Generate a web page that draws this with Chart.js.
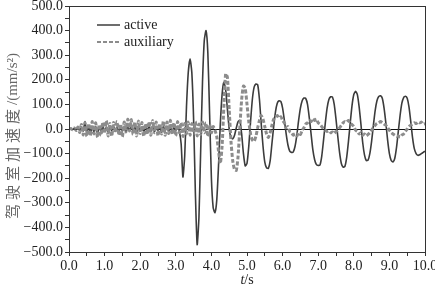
<!DOCTYPE html>
<html>
<head>
<meta charset="utf-8">
<script src="https://cdn.jsdelivr.net/npm/chart.js@4.4.0/dist/chart.umd.min.js"></script>
<style>
  html, body { margin: 0; padding: 0; background: #fff; }
  #wrap { width: 435px; height: 286px; }
</style>
</head>
<body>
<div id="wrap"><canvas id="accChart" width="435" height="286"></canvas></div>
<script>
// sampling grid of the recorded signals (s)
const T_START = 0;
const T_STEP = 0.05;

const seriesLabels = ["active", "auxiliary"];

// cab acceleration, mm/s^2, one value every 0.05 s from 0 to 10 s
const activeAcc = [
  0, 1, -2, 2, -3, 3, -5, 6, -8, 30,
  -20, 12, -15, 8, -12, 10, -18, 6, -8, 12,
  -10, 8, -14, 10, -6, 12, -10, 8, -12, 6,
  -8, 10, -12, 14, -6, 10, -10, 8, -14, 12,
  -8, 6, -12, 10, -6, 12, -10, 8, -12, 10,
  -6, 8, -14, 10, -8, 12, -10, 6, -12, 10,
  -6, 8, -10, -60, -195, -110, 90, 230, 285, 230,
  40, -260, -470, -360, -80, 190, 360, 400, 310, 60,
  -200, -320, -340, -290, -150, 20, 140, 190, 160, 80,
  0, -35, -40, -25, 5, 30, 35, -20, -100, -150,
  -140, -70, 30, 120, 170, 183, 180, 120, 20, -70,
  -135, -158, -160, -130, -60, 10, 70, 105, 115, 112,
  85, 35, -20, -65, -90, -95, -93, -70, -25, 35,
  85, 115, 126, 124, 100, 45, -20, -85, -125, -145,
  -148, -146, -110, -45, 25, 85, 120, 131, 130, 100,
  40, -30, -95, -140, -155, -152, -115, -50, 25, 95,
  140, 153, 140, 90, 20, -55, -105, -128, -127, -100,
  -50, 15, 75, 115, 132, 135, 125, 85, 25, -45,
  -100, -128, -134, -120, -75, -10, 55, 105, 128, 133,
  125, 90, 30, -35, -80, -100, -107, -105, -100, -95,
  -90
];

const auxAcc = [
  0, 2, -3, 4, -6, 8, -14, 18, -24, 26,
  -30, 22, -28, 30, -20, 25, -34, 18, -26, 28,
  -18, 34, -28, 22, -30, 26, -15, 30, -25, 20,
  -32, 28, -12, 40, -8, 38, -22, 28, -28, 32,
  -18, 26, -30, 22, -22, 30, -25, 34, -15, 28,
  -28, 22, -20, 32, -25, 28, -18, 35, -22, 26,
  -28, 30, -15, 26, -30, 22, -20, 28, -25, 22,
  -18, 30, -28, 20, -22, 28, -15, 25, -30, 18,
  -15, 10, -5, -30, -90, -140, -70, 90, 225, 210,
  80, -50, -130, -165, -168, -110, 10, 120, 175, 165,
  100, 30, -20, -45, -50, -30, 5, 35, 55, 40,
  10, -20, -35, -15, 15, 40, 48, 55, 45, 50,
  35, 25, 5, 10, -10, -15, -25, -20, -28, -15,
  -22, -5, 5, 20, 25, 35, 30, 42, 35, 40,
  25, 20, 10, 0, -5, -10, -8, -15, -12, -18,
  -10, -5, 5, 15, 25, 30, 28, 35, 22, 18,
  10, -5, -10, -20, -15, -25, -20, -28, -22, -15,
  -5, 5, 15, 22, 25, 30, 26, 20, 15, 5,
  -5, -15, -20, -25, -30, -28, -33, -25, -20, -10,
  0, 10, 15, 20, 25, 22, 28, 25, 28, 20,
  22
];

const yTitleCjk = "驾驶室加速度";
const yTitleUnit = "/(mm/s²)";

function toPoints(values) {
  return values.map((v, i) => ({ x: T_START + i * T_STEP, y: v }));
}

function fmtTick(v) {
  const s = Math.abs(v).toFixed(1);
  return v < 0 ? "\u2212" + s : s;
}

const serif = '"Liberation Serif", "Times New Roman", serif';

// frame, legend and axis titles
const decorPlugin = {
  id: "decor",
  afterDraw(chart) {
    const { ctx, chartArea } = chart;
    ctx.save();

    // box round the plot
    ctx.strokeStyle = "#333";
    ctx.lineWidth = 1;
    ctx.strokeRect(
      Math.round(chartArea.left) + 0.5,
      Math.round(chartArea.top) + 0.5,
      Math.round(chartArea.right - chartArea.left),
      Math.round(chartArea.bottom - chartArea.top)
    );

    // legend in the upper left corner
    const items = [chart.data.datasets[1], chart.data.datasets[0]];
    items.forEach((ds, i) => {
      const y = 25 + i * 17;
      ctx.beginPath();
      ctx.strokeStyle = ds.borderColor;
      ctx.lineWidth = i === 0 ? 1.5 : 2;
      ctx.setLineDash(ds.borderDash || []);
      ctx.moveTo(97, y);
      ctx.lineTo(120, y);
      ctx.stroke();
      ctx.setLineDash([]);
      ctx.fillStyle = "#222";
      ctx.font = "14px " + serif;
      ctx.textAlign = "left";
      ctx.textBaseline = "middle";
      ctx.fillText(ds.label, 124, y);
    });

    // x title: italic t, then /s
    ctx.fillStyle = "#222";
    ctx.textBaseline = "alphabetic";
    ctx.font = "italic 14px " + serif;
    const wT = ctx.measureText("t").width;
    ctx.font = "14px " + serif;
    const wS = ctx.measureText("/s").width;
    const x0 = 247 - (wT + wS) / 2;
    ctx.font = "italic 14px " + serif;
    ctx.fillText("t", x0, 284);
    ctx.font = "14px " + serif;
    ctx.fillText("/s", x0 + wT, 284);

    // y title, rotated: spaced CJK part, then the unit
    ctx.translate(12, 136);
    ctx.rotate(-Math.PI / 2);
    ctx.fillStyle = "#666";
    ctx.textAlign = "left";
    ctx.textBaseline = "middle";
    ctx.font = '15px "Noto Sans CJK SC", sans-serif';
    ctx.letterSpacing = "4px";
    const wCjk = ctx.measureText(yTitleCjk).width;
    ctx.font = "15px " + serif;
    ctx.letterSpacing = "0px";
    const wUnit = ctx.measureText(yTitleUnit).width;
    const start = -(wCjk + wUnit) / 2;
    ctx.font = '15px "Noto Sans CJK SC", sans-serif';
    ctx.letterSpacing = "4px";
    ctx.fillText(yTitleCjk, start, 0);
    ctx.font = "15px " + serif;
    ctx.letterSpacing = "0px";
    ctx.fillText(yTitleUnit, start + wCjk, 1);

    ctx.restore();
  }
};

new Chart(document.getElementById("accChart"), {
  type: "line",
  data: {
    datasets: [
      {
        label: seriesLabels[1],
        data: toPoints(auxAcc),
        borderColor: "#8c8c8c",
        borderWidth: 3,
        borderDash: [4, 2],
        pointRadius: 0,
        tension: 0.2,
        order: 0
      },
      {
        label: seriesLabels[0],
        data: toPoints(activeAcc),
        borderColor: "#3c3c3c",
        borderWidth: 1.6,
        pointRadius: 0,
        tension: 0.2,
        order: 1
      }
    ]
  },
  options: {
    responsive: false,
    animation: false,
    devicePixelRatio: 1,
    layout: { padding: { top: 6, right: 10, left: 0, bottom: 0 } },
    plugins: {
      legend: { display: false },
      tooltip: { enabled: false }
    },
    scales: {
      x: {
        type: "linear",
        min: 0,
        max: 10,
        afterFit(s) {
          s.height = 34;
          s.paddingLeft = 0;
          s.paddingRight = 0;
        },
        ticks: {
          stepSize: 0.5,
          autoSkip: false,
          maxRotation: 0,
          padding: 2,
          color: "#222",
          font: { family: serif, size: 14 },
          callback: (v) => (Math.abs(v - Math.round(v)) < 1e-6 ? v.toFixed(1) : "")
        },
        grid: { drawOnChartArea: false, tickLength: 4, tickColor: "#333" },
        border: { color: "#333" }
      },
      y: {
        min: -500,
        max: 500,
        afterFit(s) {
          s.width = 69;
          s.paddingTop = 0;
          s.paddingBottom = 0;
        },
        ticks: {
          stepSize: 50,
          autoSkip: false,
          padding: 2,
          color: "#222",
          font: { family: serif, size: 14 },
          callback: (v) => (v % 100 === 0 ? fmtTick(v) : "")
        },
        grid: {
          color: (c) => (c.tick && c.tick.value === 0 ? "#111" : "rgba(0,0,0,0)"),
          tickColor: "#333",
          tickLength: 4
        },
        border: { color: "#333" }
      }
    }
  },
  plugins: [decorPlugin]
});
</script>
</body>
</html>
